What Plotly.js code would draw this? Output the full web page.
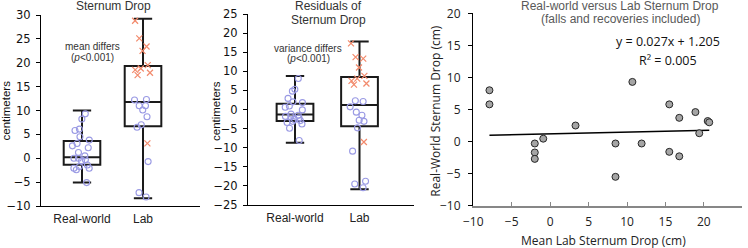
<!DOCTYPE html>
<html>
<head>
<meta charset="utf-8">
<script src="https://cdn.plot.ly/plotly-3.0.1.min.js"></script>
<style>html,body{margin:0;padding:0;background:#fff;}#chart{width:748px;height:248px;}</style>
</head>
<body>
<div id="chart"></div>
<script>
// ---------- data ----------
const categories = ['Real-world', 'Lab'];

// Panel 1: Sternum Drop box statistics
const dropLowerFence = [-5.1, -8.4];
const dropQ1 = [-1.35, 6.7];
const dropMedian = [0.2, 11.8];
const dropQ3 = [3.6, 19.3];
const dropUpperFence = [10.0, 29.2];
// Panel 1 points
const dropRealWorld = [9.3, 8.2, 6.1, 5.8, 4.5, 3.8, 3.1, 2.6, 2.2, 1.2, 0.5, 0.0, 0.0, -0.3, -0.6, -1.4, -1.75, -2.1, -2.1, -2.4, -5.1];
const dropLabCircles = [12.2, 12.3, 11.0, 10.1, 11.0, 8.7, 7.0, 6.5, -0.7, -7.2, -8.1];
const dropLabCrosses = [28.8, 25.1, 23.4, 22.5, 19.5, 18.8, 18.5, 17.9, 17.4, 3.1];

// Panel 2: Residuals box statistics
const resLowerFence = [-8.7, -20.9];
const resQ1 = [-3.0, -4.4];
const resMedian = [-1.3, 1.2];
const resQ3 = [1.5, 8.5];
const resUpperFence = [8.8, 17.8];
// Panel 2 points
const resRealWorld = [8.1, 5.3, 4.8, 2.9, 2.0, 1.8, 0.9, 0.6, -0.1, -1.2, -1.5, -1.8, -1.9, -2.2, -2.6, -2.9, -3.1, -3.4, -3.8, -4.9, -8.1];
const resLabCircles = [2.3, 2.1, 0.7, -0.7, -1.5, -2.8, -3.1, -4.8, -10.9, -18.8, -19.5, -20.5];
const resLabCrosses = [17.3, 13.7, 13.3, 11.0, 8.8, 8.1, 7.5, 6.8, 6.5, -8.5];

// Panel 3: scatter
const labMeanDrop = [-7.9, -7.9, -2.0, -2.0, -2.0, -0.9, 3.3, 8.5, 8.5, 10.7, 11.9, 15.5, 15.5, 16.8, 16.8, 18.9, 19.4, 20.5, 20.7];
const realWorldDrop = [8.0, 5.8, -0.3, -1.7, -2.7, 0.45, 2.5, -0.3, -5.5, 9.3, -0.3, 5.8, -1.6, 3.7, -2.3, 4.6, 1.3, 3.2, 3.0];
const fitSlope = 0.027;
const fitIntercept = 1.205;
const fitR2 = 0.005;

// ---------- styles ----------
const W = 748, H = 248;
const px = v => v / W;
const py = v => 1 - v / H;
const circleColor = '#9a9ae4';
const crossColor = '#f28a6c';
const boxLine = {color: '#1a1a1a', width: 2};
const arial = 'Liberation Sans, Arial, sans-serif';
const dejavu = 'DejaVu Sans, Verdana, sans-serif';
const open = 'Open Sans, sans-serif';

function statBox(xa, ya, q1, med, q3, lo, hi, width) {
  return {
    type: 'box', xaxis: xa, yaxis: ya, x: categories,
    q1: q1, median: med, q3: q3, lowerfence: lo, upperfence: hi,
    boxpoints: false, width: width, line: boxLine, fillcolor: 'rgba(0,0,0,0)',
    showlegend: false, hoverinfo: 'skip'
  };
}
function pointBox(xa, ya, cat, ys, marker, width) {
  return {
    type: 'box', xaxis: xa, yaxis: ya, x0: cat, y: ys, name: cat,
    boxpoints: 'all', jitter: 1, pointpos: 0, width: width,
    line: {color: 'rgba(0,0,0,0)', width: 0}, fillcolor: 'rgba(0,0,0,0)',
    marker: marker, showlegend: false
  };
}
const circ = {symbol: 'circle-open', size: 6, color: circleColor, line: {color: circleColor, width: 1.1}};
const cross = {symbol: 'x-thin-open', size: 6, color: crossColor, line: {color: crossColor, width: 1.2}};

const xmin = Math.min(...labMeanDrop), xmax = Math.max(...labMeanDrop);
const jw = 0.42;

const traces = [
  statBox('x', 'y', dropQ1, dropMedian, dropQ3, dropLowerFence, dropUpperFence, 0.6),
  pointBox('x', 'y', categories[0], dropRealWorld, circ, jw),
  pointBox('x', 'y', categories[1], dropLabCircles, circ, jw),
  pointBox('x', 'y', categories[1], dropLabCrosses, cross, jw),
  statBox('x2', 'y2', resQ1, resMedian, resQ3, resLowerFence, resUpperFence, 0.57),
  pointBox('x2', 'y2', categories[0], resRealWorld, circ, jw),
  pointBox('x2', 'y2', categories[1], resLabCircles, circ, jw),
  pointBox('x2', 'y2', categories[1], resLabCrosses, cross, jw),
  {
    type: 'scatter', mode: 'lines', xaxis: 'x3', yaxis: 'y3',
    x: [xmin, xmax], y: [fitSlope * xmin + fitIntercept, fitSlope * xmax + fitIntercept],
    line: {color: '#000', width: 1.6}, showlegend: false
  },
  {
    type: 'scatter', mode: 'markers', xaxis: 'x3', yaxis: 'y3',
    x: labMeanDrop, y: realWorldDrop,
    marker: {size: 7, color: '#a5a5a5', line: {color: '#262626', width: 1}}, showlegend: false
  }
];

const catAxis = (domain, range) => ({
  domain: domain, type: 'category', categoryorder: 'array', categoryarray: categories,
  range: range, showline: true, linecolor: '#000', linewidth: 1, ticks: '',
  showgrid: false, zeroline: false, tickfont: {family: arial, size: 12, color: '#222'},
  ticklabelstandoff: 2, fixedrange: true
});
const valAxis = (domain, range, dtick, anchor) => ({
  domain: domain, range: range, dtick: dtick, anchor: anchor,
  showline: true, linecolor: '#000', linewidth: 1, ticks: 'outside', ticklen: 4, tickcolor: '#000',
  showgrid: false, zeroline: false, tickfont: {family: dejavu, size: 11.5, color: '#111'}, ticklabelstandoff: 3
});

const ann = (x, y, text, size, color, family, extra) => Object.assign({
  xref: 'paper', yref: 'paper', x: px(x), y: py(y), text: text, showarrow: false,
  font: {family: family || arial, size: size, color: color}, xanchor: 'center', yanchor: 'middle'
}, extra || {});

const layout = {
  width: W, height: H, margin: {l: 0, r: 0, t: 0, b: 0},
  paper_bgcolor: '#fff', plot_bgcolor: 'rgba(0,0,0,0)', boxmode: 'overlay', showlegend: false,
  xaxis: Object.assign(catAxis([px(41), px(200)], [-0.672, 1.934]), {anchor: 'y'}),
  yaxis: valAxis([py(206), py(15)], [-10, 30], 5, 'x'),
  xaxis2: Object.assign(catAxis([px(248), px(414)], [-0.729, 1.845]), {anchor: 'y2'}),
  yaxis2: valAxis([py(205), py(14)], [-25, 25], 5, 'x2'),
  xaxis3: {
    domain: [px(473.3), px(742.3)], range: [-10, 25], dtick: 5, anchor: 'y3',
    showline: true, linecolor: '#878787', linewidth: 2, ticks: 'inside', ticklen: 4, tickcolor: '#878787',
    showgrid: false, zeroline: false, tickfont: {family: open, size: 12, color: '#222'}, ticklabelstandoff: 4
  },
  yaxis3: {
    domain: [py(205.7), py(13.3)], range: [-10, 20], dtick: 5, anchor: 'x3',
    showline: true, linecolor: '#000', linewidth: 1.3, ticks: 'outside', ticklen: 4, tickcolor: '#000',
    showgrid: false, zeroline: false, tickfont: {family: open, size: 12, color: '#222'}, ticklabelstandoff: 5
  },
  annotations: [
    ann(113, 6, 'Sternum Drop', 12, '#333'),
    ann(328, 6, 'Residuals of', 12, '#333'),
    ann(328, 20.5, 'Sternum Drop', 12, '#333'),
    ann(620, 6, 'Real-world versus Lab Sternum Drop', 12, '#595959'),
    ann(620, 19.5, '(falls and recoveries included)', 12, '#595959'),
    ann(92.5, 47, 'mean differs', 10, '#333'),
    ann(92.5, 57.5, '(<i>p</i><0.001)', 10, '#333'),
    ann(308, 48, 'variance differs', 10, '#333'),
    ann(308, 58.5, '(<i>p</i><0.001)', 10, '#333'),
    ann(668, 42, 'y = ' + fitSlope.toFixed(3) + 'x + ' + fitIntercept.toFixed(3), 12.5, '#111', open),
    ann(668, 60, 'R² = ' + fitR2.toFixed(3), 12.5, '#111', open),
    ann(5.5, 111, 'centimeters', 11.5, '#111', arial, {textangle: -90}),
    ann(216, 111, 'centimeters', 11.5, '#111', arial, {textangle: -90}),
    ann(435.7, 111, 'Real-World Sternum Drop (cm)', 12, '#222', open, {textangle: -90}),
    ann(603, 240, 'Mean Lab Sternum Drop (cm)', 12, '#222', open)
  ]
};

Plotly.newPlot('chart', traces, layout, {staticPlot: true, displayModeBar: false});
</script>
</body>
</html>
